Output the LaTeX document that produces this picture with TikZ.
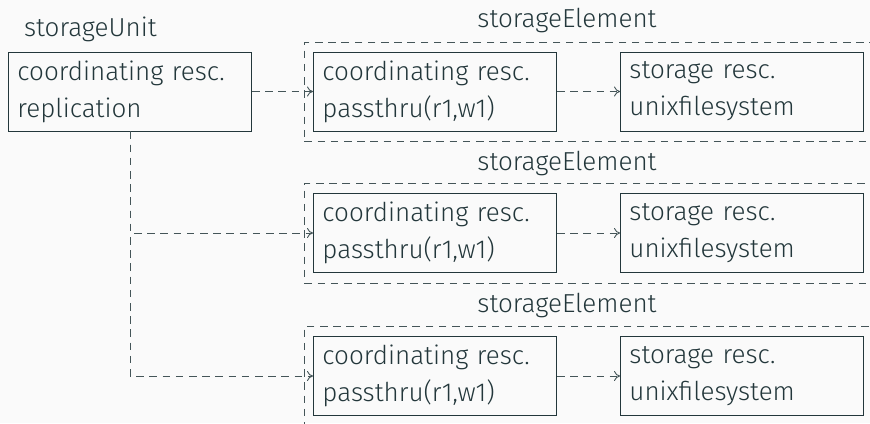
\documentclass[tikz,border=0pt]{standalone}
\usepackage{fontspec}
\setmainfont{Fira Sans Light}
\usetikzlibrary{arrows.meta}
\definecolor{mTeal}{HTML}{23373B}
\definecolor{bgpaper}{HTML}{FAFAFA}

\begin{document}
\begin{tikzpicture}[x=0.5pt,y=-0.5pt,
  every node/.style={text=mTeal, font=\fontsize{13}{18.5}\selectfont},
  resc/.style={draw=mTeal, line width=0.45pt, rectangle, minimum height=39.5pt,
    text width=112.5pt, inner xsep=4.5pt, inner ysep=0pt, align=left, anchor=west},
  group/.style={draw=mTeal!85, line width=0.45pt, dash pattern=on 3.8pt off 2.8pt,
    rectangle, inner sep=0pt, anchor=north west, minimum width=290pt},
  link/.style={draw=mTeal!85, line width=0.45pt, dash pattern=on 3.8pt off 2.8pt,
    -{To[length=3pt,width=5pt]}},
  title/.style={anchor=base}]
\fill[bgpaper] (0,0) rectangle (870,423);
\clip (0,0) rectangle (870,423);

% storage unit
\node[title, anchor=base west] (unitlabel) at (17,36) {storageUnit};
\node[resc] (rep) at (8,91.5) {coordinating resc.\\replication};

% storage elements (open to the right)
\node[group, minimum height=49.5pt] (el1) at (304,42) {};
\node[group, minimum height=50pt] (el2) at (304,183) {};
\node[group, minimum height=52pt] (el3) at (304,326) {};
\node[title] (el1label) at (567,27) {storageElement};
\node[title] (el2label) at (567,170) {storageElement};
\node[title] (el3label) at (567,312) {storageElement};

% resources inside the elements
\node[resc] (pt1) at (313,91.5) {coordinating resc.\\passthru(r1,w1)};
\node[resc] (st1) at (620,91.5) {storage resc.\\unixfilesystem};
\node[resc] (pt2) at (313,233) {coordinating resc.\\passthru(r1,w1)};
\node[resc] (st2) at (620,233) {storage resc.\\unixfilesystem};
\node[resc] (pt3) at (313,376) {coordinating resc.\\passthru(r1,w1)};
\node[resc] (st3) at (620,376) {storage resc.\\unixfilesystem};

% connections
\draw[link] (rep.east) -- (pt1.west);
\draw[link] (rep.south) |- (pt2.west);
\draw[link] (rep.south) |- (pt3.west);
\draw[link] (pt1.east) -- (st1.west);
\draw[link] (pt2.east) -- (st2.west);
\draw[link] (pt3.east) -- (st3.west);
\end{tikzpicture}
\end{document}
